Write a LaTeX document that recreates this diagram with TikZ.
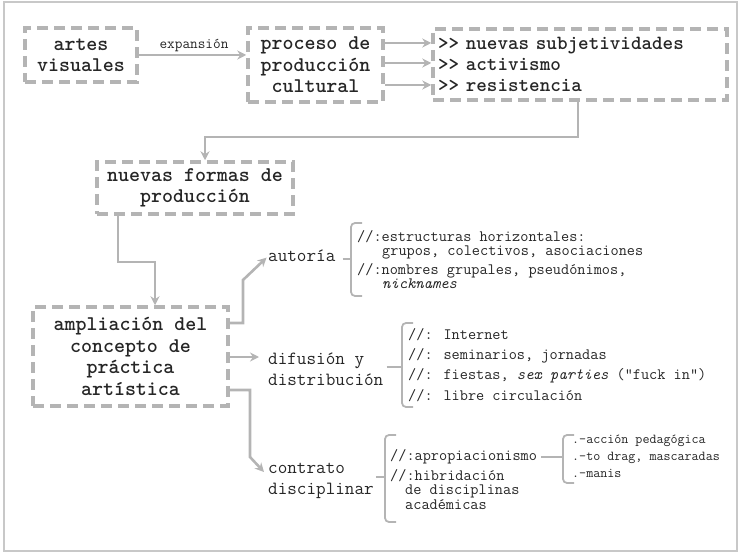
\documentclass[tikz,border=0pt]{standalone}
\usepackage{fontspec}
\usetikzlibrary{arrows.meta}
\definecolor{lgrey}{HTML}{B4B4B4}
\definecolor{txt}{HTML}{262626}
\definecolor{framec}{HTML}{C8C8C8}
\begin{document}
\begin{tikzpicture}[x=1bp,y=-1bp,
  every node/.style={text=txt, inner sep=0pt, font=\ttfamily},
  box/.style={draw=lgrey, line width=3.5bp, dash pattern=on 11bp off 6bp, align=center,
    font=\ttfamily\bfseries\fontsize{21}{21.5}\selectfont},
  conn/.style={draw=lgrey, line width=2.6bp, -{Stealth[length=9bp,width=9bp]}},
  lab/.style={font=\ttfamily\fontsize{18.7}{21}\selectfont, align=left, anchor=base west},
  item/.style={font=\ttfamily\fontsize{15.9}{14.5}\selectfont, align=left, anchor=base west},
  subitem/.style={font=\ttfamily\fontsize{13.7}{17}\selectfont, align=left, anchor=base west},
  brk/.style={draw=lgrey, line width=1.8bp, rounded corners=4bp}]
\useasboundingbox (0,0) rectangle (740,554);
\draw[framec, line width=1.3bp] (4,2) rectangle (737,551);

% boxes
\node[box, minimum width=112bp, minimum height=54bp] (artes) at (81,55) {artes\\visuales};
\node[box, minimum width=135bp, minimum height=74bp] (proceso) at (315.5,65) {proceso de\\producción\\cultural};
\node[box, minimum width=294bp, minimum height=71bp, align=left, text width=284bp,
  font=\ttfamily\bfseries\fontsize{20.2}{21}\selectfont] (subj) at (580,64.5)
  {{>}{>} nuevas subjetividades\\{>}{>} activismo\\{>}{>} resistencia};
\node[box, minimum width=196bp, minimum height=52bp] (nuevas) at (195,188) {nuevas formas de\\producción};
\node[box, minimum width=195bp, minimum height=99bp] (amplia) at (130.5,356.5) {ampliación del\\concepto de\\práctica\\artística};

% labels
\node[font=\ttfamily\fontsize{14.9}{15}\selectfont, anchor=base] (expansion) at (194,49) {expansión};
\node[lab] (autoria) at (268,262) {autoría};
\node[lab] (difusion) at (268,385) {difusión y\\distribución};
\node[lab] (contrato) at (268,494) {contrato\\disciplinar};

% items
\node[item] (au1) at (357,255.5) {//:estructuras horizontales:\\\hspace*{25bp}grupos, colectivos, asociaciones};
\node[item] (au2) at (357,288.5) {//:nombres grupales, pseudónimos,\\\hspace*{25bp}\textit{nicknames}};
\node[item, font=\ttfamily\fontsize{15.9}{20.3}\selectfont] (di) at (408,400)
  {//: Internet\\//: seminarios, jornadas\\//: fiestas, \textit{sex parties} (”fuck in”)\\//: libre circulación};
\node[item] (co1) at (390,460) {//:apropiacionismo};
\node[item] (co2) at (390,509) {//:hibridación\\\hspace*{15bp}de disciplinas\\\hspace*{15bp}académicas};
\node[subitem] (su) at (572,477) {.-acción pedagógica\\.-to drag, mascaradas\\.-manis};

% coordinates
\coordinate (r1) at (408,43);
\coordinate (r2) at (408,63);
\coordinate (r3) at (408,85);
\coordinate (k1) at (578,137);
\coordinate (k2) at (205,137);
\coordinate (k3) at (118,262);
\coordinate (k4) at (155,262);
\coordinate (k5) at (243,323);
\coordinate (k6) at (243,280);
\coordinate (k7) at (250,357);
\coordinate (k8) at (250,390);
\coordinate (k9) at (250,457);
\coordinate (k10) at (264,472);

% connectors
\draw[conn] (artes.east) -- (proceso.west |- artes.east);
\draw[conn] (proceso.east |- r1) -- (subj.west |- r1);
\draw[conn] (proceso.east |- r2) -- (subj.west |- r2);
\draw[conn] (proceso.east |- r3) -- (subj.west |- r3);
\draw[conn] (subj.south -| k1) -- (k1) -- (k2) -- (nuevas.north -| k2);
\draw[conn] (nuevas.south -| k3) -- (k3) -- (k4) -- (amplia.north -| k4);
\draw[conn, shorten >=2bp] (amplia.east |- k5) -- (k5) -- (k6) -- (autoria.west);
\draw[conn, shorten >=9bp] (amplia.east |- k7) -- (difusion.west |- k7);
\draw[conn] (amplia.east |- k8) -- (k8) -- (k9) -- (k10);

% brackets
\coordinate (m1) at (351,259);
\coordinate (m2) at (402,367);
\coordinate (m3) at (385,477);
\coordinate (m4) at (563,457);
\draw[brk] (362,223) -- (351,223) -- (351,296) -- (362,296);
\draw[brk, shorten <=7bp] (autoria.east |- m1) -- (m1);
\draw[brk] (413,323) -- (402,323) -- (402,407) -- (413,407);
\draw[brk, shorten <=3bp] (difusion.east |- m2) -- (m2);
\draw[brk] (396,435) -- (385,435) -- (385,522) -- (396,522);
\draw[brk, shorten <=2bp] (contrato.east |- m3) -- (m3);
\draw[brk] (574,435) -- (563,435) -- (563,483) -- (574,483);
\draw[brk, shorten <=4bp] (co1.east |- m4) -- (m4);
\end{tikzpicture}
\end{document}
